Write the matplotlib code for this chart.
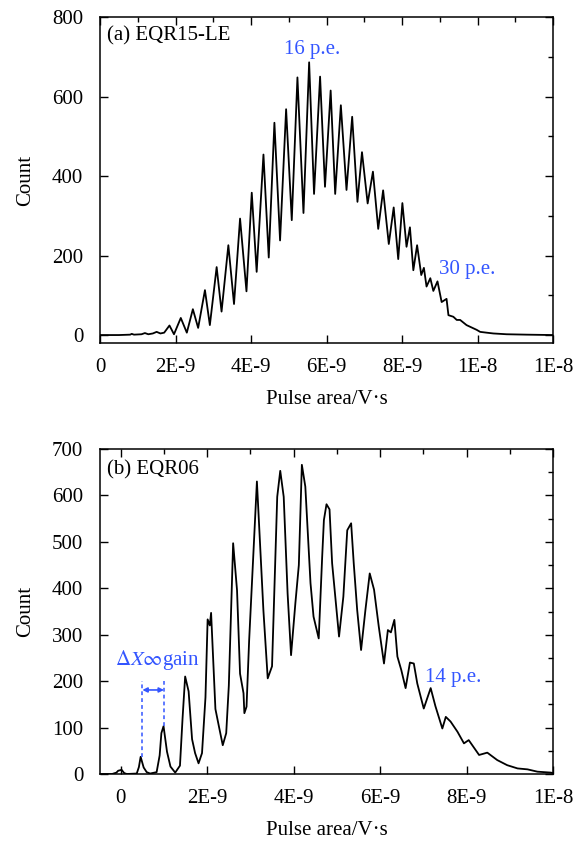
import matplotlib
matplotlib.use("Agg")
import matplotlib.pyplot as plt
import numpy as np

plt.rcParams['font.family'] = ['Liberation Serif', 'DejaVu Serif']
plt.rcParams['mathtext.fontset'] = 'stix'

BLUE = '#3355FF'

# ---- Panel (a) EQR15-LE : pulse area (units of 1E-9 V*s) vs count ----
a_x = [0, 0.5, 0.8, 0.84, 0.9, 1.1, 1.19, 1.28, 1.4, 1.5, 1.6, 1.7, 1.84, 1.96, 2.14, 2.30,
       2.46, 2.60, 2.78, 2.91, 3.09, 3.22, 3.40, 3.55, 3.71, 3.88, 4.02, 4.15, 4.33, 4.47,
       4.62, 4.77, 4.93, 5.08, 5.23, 5.39, 5.54, 5.67, 5.83, 5.96, 6.11, 6.23, 6.38, 6.53,
       6.68, 6.82, 6.94, 7.09, 7.23, 7.37, 7.50, 7.65, 7.78, 7.90, 8.01, 8.12, 8.21, 8.30,
       8.40, 8.51, 8.58, 8.65, 8.75, 8.83, 8.94, 9.05, 9.18, 9.23, 9.36, 9.45, 9.54, 9.71,
       9.80, 9.98, 10.07, 10.24, 10.42, 10.77, 11.3, 12.0]
a_y = [0, 0, 1, 3, 1, 2, 5, 2, 4, 8, 4, 6, 24, 2, 43, 6,
       65, 18, 113, 25, 171, 59, 226, 78, 293, 110, 358, 159, 454, 195,
       534, 238, 568, 289, 648, 307, 686, 355, 650, 373, 615, 355, 578, 365,
       549, 335, 460, 331, 411, 267, 364, 229, 321, 191, 332, 222, 271, 163,
       226, 151, 169, 122, 143, 111, 135, 83, 91, 50, 46, 38, 38, 25,
       21, 13, 8, 6, 4, 2, 1, 0]

# ---- Panel (b) EQR06 ----
b_x = [-0.5, -0.2, -0.1, -0.06, 0.02, 0.08, 0.14, 0.37, 0.42, 0.46, 0.53, 0.60, 0.68, 0.83,
       0.90, 0.94, 0.99, 1.07, 1.15, 1.26, 1.37, 1.43, 1.49, 1.57, 1.65, 1.72, 1.80, 1.88,
       1.96, 2.01, 2.06, 2.09, 2.19, 2.27, 2.36, 2.44, 2.50, 2.60, 2.69, 2.76, 2.84, 2.86,
       2.91, 2.97, 3.15, 3.30, 3.40, 3.50, 3.62, 3.69, 3.77, 3.86, 3.94, 4.04, 4.12, 4.19,
       4.27, 4.39, 4.46, 4.58, 4.66, 4.70, 4.76, 4.83, 4.89, 4.97, 5.05, 5.15, 5.24, 5.33,
       5.39, 5.47, 5.56, 5.66, 5.76, 5.86, 5.97, 6.09, 6.18, 6.25, 6.33, 6.40, 6.49, 6.59,
       6.69, 6.78, 6.86, 6.94, 7.01, 7.17, 7.28, 7.44, 7.52, 7.63, 7.79, 7.94, 8.05, 8.29,
       8.48, 8.71, 8.94, 9.18, 9.41, 9.64, 9.95, 10.0]
b_y = [0, 0, 3, 7, 9, 2, 0, 1, 15, 37, 14, 4, 1, 4,
       40, 88, 103, 48, 16, 3, 18, 120, 210, 178, 75, 45, 23, 45,
       165, 333, 320, 347, 140, 103, 62, 88, 190, 497, 396, 216, 174, 131,
       145, 287, 630, 353, 206, 232, 597, 653, 597, 389, 256, 368, 450, 666,
       619, 411, 339, 292, 468, 547, 581, 570, 454, 375, 296, 382, 525, 540,
       454, 353, 267, 353, 432, 397, 317, 238, 310, 305, 332, 253, 224, 185,
       240, 238, 195, 166, 141, 185, 146, 98, 123, 113, 91, 66, 73, 41,
       46, 30, 19, 12, 10, 5, 3, 2]

a_xticks = [0, 2, 4, 6, 8, 10, 12]
a_xticklabels = ["0", "2E-9", "4E-9", "6E-9", "8E-9", "1E-8", "1E-8"]
b_xticks = [0, 2, 4, 6, 8, 10]
b_xticklabels = ["0", "2E-9", "4E-9", "6E-9", "8E-9", "1E-8"]
a_yticks = [0, 200, 400, 600, 800]
b_yticks = [0, 100, 200, 300, 400, 500, 600, 700]

S = 1e-9
FS = 15

fig = plt.figure(figsize=(5.85, 8.42), dpi=100)
axA = fig.add_axes([100/585, 1-343/842, 453/585, 326/842])
axB = fig.add_axes([100/585, 1-774/842, 453/585, 325/842])

def style(ax, xticks, xlabels, xminor, yticks, yminor):
    ax.set_xticks([t*S for t in xticks])
    ax.set_xticklabels(xlabels)
    ax.set_xticks([t*S for t in xminor], minor=True)
    ax.set_yticks(yticks)
    ax.set_yticks(yminor, minor=True)
    ax.tick_params(which='major', direction='in', length=6, width=1,
                   top=True, right=True, labelsize=FS)
    ax.tick_params(axis='x', which='major', pad=11)
    ax.tick_params(axis='y', which='major', pad=12)
    ax.tick_params(which='minor', direction='in', length=3.5, width=1,
                   top=True, right=True, bottom=False, left=False)
    for s in ax.spines.values():
        s.set_linewidth(1.1)
    ax.set_ylabel("Count", fontsize=FS, labelpad=12)
    ax.set_xlabel("Pulse area/V·s", fontsize=FS, labelpad=9)

axA.plot(np.array(a_x)*S, a_y, color='black', lw=1.3)
axA.set_xlim(0, 12*S)
axA.set_ylim(-20, 800)
style(axA, a_xticks, a_xticklabels, list(range(0, 13)), a_yticks, list(range(0, 801, 100)))
axA.text(0.18*S, 752, "(a) EQR15-LE", fontsize=FS, va='center', ha='left')
axA.text(5.62*S, 717, "16 p.e.", fontsize=FS, va='center', ha='center', color=BLUE)
axA.text(8.99*S, 164, "30 p.e.", fontsize=FS, va='center', ha='left', color=BLUE)

axB.plot(np.array(b_x)*S, b_y, color='black', lw=1.3)
axB.set_xlim(-0.48*S, 10*S)
axB.set_ylim(0, 700)
style(axB, b_xticks, b_xticklabels, list(range(0, 11)), b_yticks, list(range(0, 701, 50)))
axB.text(-0.32*S, 654, "(b) EQR06", fontsize=FS, va='center', ha='left')
axB.text(7.05*S, 207, "14 p.e.", fontsize=FS, va='center', ha='left', color=BLUE)
axB.text(-0.13*S, 245, r"$\Delta X\infty$gain", fontsize=FS, va='center', ha='left', color=BLUE)
axB.plot([0.5*S, 0.5*S], [37, 200], ls=(0, (2.5, 2)), color=BLUE, lw=1.1)
axB.plot([1.0*S, 1.0*S], [103, 200], ls=(0, (2.5, 2)), color=BLUE, lw=1.1)
axB.annotate("", xy=(1.0*S, 181), xytext=(0.5*S, 181),
             arrowprops=dict(arrowstyle='<|-|>', color=BLUE, lw=1.2,
                             shrinkA=0, shrinkB=0, mutation_scale=7))

fig.savefig("out.png", dpi=100)
